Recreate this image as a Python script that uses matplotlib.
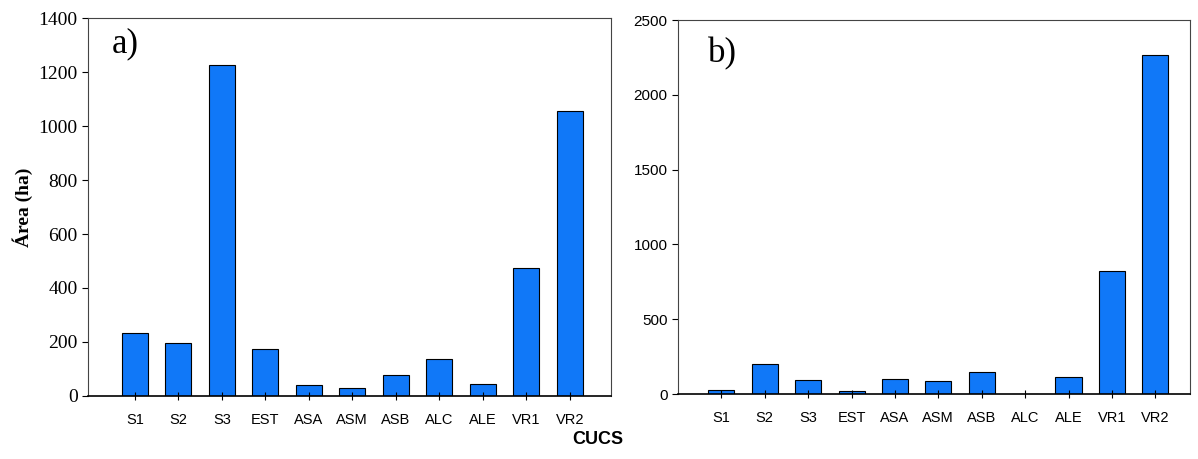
import matplotlib.pyplot as plt
import numpy as np

# Data
cucs = ['S1', 'S2', 'S3', 'EST', 'ASA', 'ASM', 'ASB', 'ALC', 'ALE', 'VR1', 'VR2']
area_a = [235, 195, 1225, 175, 42, 30, 78, 138, 45, 475, 1055]
area_b = [25, 200, 92, 20, 100, 88, 145, 0, 115, 820, 2265]

bar_color = '#1078F8'
x = np.arange(len(cucs))

fig = plt.figure(figsize=(11.98, 4.59), dpi=100)
ax1 = fig.add_axes([88/1198, 1 - 396/459, (611-88)/1198, (396-18)/459])
ax2 = fig.add_axes([678/1198, 1 - 394/459, (1190-678)/1198, (394-20)/459])

for ax, vals in [(ax1, area_a), (ax2, area_b)]:
    ax.bar(x, vals, width=0.6, color=bar_color, edgecolor='black', linewidth=0.8)
    ax.set_xticks(x)
    ax.set_xticklabels(cucs, family='Liberation Sans', fontsize=10.5)
    ax.tick_params(axis='x', direction='inout', length=6, pad=9)
    ax.tick_params(axis='y', direction='out', length=4)
    for s in ax.spines.values():
        s.set_linewidth(0.8)
        s.set_color('#444444')
    ax.spines['bottom'].set_color('black')
    ax.spines['bottom'].set_linewidth(1.2)

ax1.set_xlim(-1.08, 10.95)
ax1.set_ylim(0, 1400)
ax1.set_yticks(range(0, 1401, 200))
for lab in ax1.get_yticklabels():
    lab.set_family('Liberation Serif')
    lab.set_fontsize(14)
ax1.set_ylabel('Área (ha)', family='Liberation Serif', fontweight='bold', fontsize=14, labelpad=4)
ax1.text(0.046, 0.975, 'a)', transform=ax1.transAxes, family='Liberation Serif', fontsize=25, va='top')

ax2.set_xlim(-1.0, 10.8)
ax2.set_ylim(0, 2500)
ax2.set_yticks(range(0, 2501, 500))
for lab in ax2.get_yticklabels():
    lab.set_family('Liberation Sans')
    lab.set_fontsize(11)
ax2.text(0.059, 0.955, 'b)', transform=ax2.transAxes, family='Liberation Serif', fontsize=25, va='top')

fig.text(598/1198, 1 - 440/459, 'CUCS', family='Liberation Sans', fontweight='bold',
         fontsize=13, ha='center', va='center')

plt.savefig('out.png', dpi=100)
